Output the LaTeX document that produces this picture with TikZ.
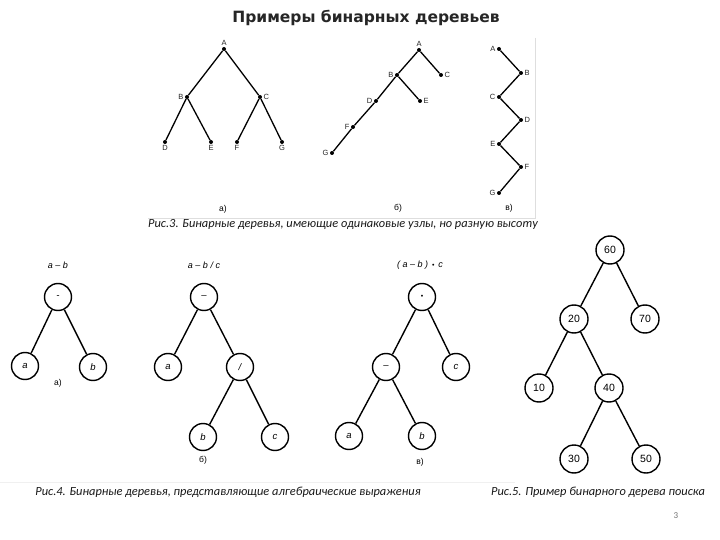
\documentclass[tikz,border=0pt]{standalone}
\usepackage{fontspec}
\setmainfont{Carlito}
\newfontfamily\arial{Liberation Sans}
\newfontfamily\titlefont{DejaVu Sans}
\begin{document}
\begin{tikzpicture}[x=1pt,y=-1pt,
  dotnode/.style={circle,fill=black,inner sep=0pt,minimum size=4pt},
  lbl/.style={font=\arial\fontsize{7.5}{8}\selectfont,inner sep=1.2pt,text=black!85},
  edge/.style={line width=1.4pt},
  tedge/.style={line width=1.3pt},
  cnode/.style={circle,draw,line width=1.4pt,minimum size=27pt,inner sep=0pt,font=\arial\itshape\fontsize{9.5}{10}\selectfont},
  nnode/.style={circle,draw,line width=1.4pt,minimum size=28pt,inner sep=0pt,font=\arial\fontsize{10.5}{11}\selectfont},
  sub/.style={font=\arial\fontsize{8.5}{9}\selectfont},
  expr/.style={font=\arial\itshape\fontsize{9}{10}\selectfont},
  captext/.style={font=\itshape\fontsize{12.4}{14}\selectfont,text=black!90}
]
\useasboundingbox[fill=white] (0,0) rectangle (720,540);

% title
\node[font=\titlefont\bfseries\fontsize{15.5}{18}\selectfont,text=black!85] (title) at (366,18) {Примеры бинарных деревьев};

% frame lines of Fig.3
\coordinate (fr1) at (535,38);
\coordinate (fr2) at (535,218);
\coordinate (fr3) at (148,218);
\draw[black!13,line width=0.8pt] (fr1) -- (fr2) -- (fr3);

% ---------- Fig.3 a)
\node[dotnode,label={[lbl]above:A}] (aA) at (224,49) {};
\node[dotnode,label={[lbl]left:B}] (aB) at (187,97) {};
\node[dotnode,label={[lbl]right:C}] (aC) at (260,97) {};
\node[dotnode,label={[lbl]below:D}] (aD) at (165,142) {};
\node[dotnode,label={[lbl]below:E}] (aE) at (211,142) {};
\node[dotnode,label={[lbl]below:F}] (aF) at (237,142) {};
\node[dotnode,label={[lbl]below:G}] (aG) at (282,142) {};
\draw[tedge] (aA) -- (aB) (aA) -- (aC) (aB) -- (aD) (aB) -- (aE) (aC) -- (aF) (aC) -- (aG);
\node[sub] (sa) at (223,209) {а)};

% ---------- Fig.3 б)
\node[dotnode,label={[lbl]above:A}] (bA) at (419,50) {};
\node[dotnode,label={[lbl]left:B}] (bB) at (397,75) {};
\node[dotnode,label={[lbl]right:C}] (bC) at (441,75) {};
\node[dotnode,label={[lbl]left:D}] (bD) at (376,101) {};
\node[dotnode,label={[lbl]right:E}] (bE) at (420,101) {};
\node[dotnode,label={[lbl]left:F}] (bF) at (353,127) {};
\node[dotnode,label={[lbl]left:G}] (bG) at (332,153) {};
\draw[tedge] (bA) -- (bB) (bA) -- (bC) (bB) -- (bD) (bB) -- (bE) (bD) -- (bF) (bF) -- (bG);
\node[sub] (sb) at (398,208) {б)};

% ---------- Fig.3 в)
\node[dotnode,label={[lbl]left:A}] (cA) at (499,49) {};
\node[dotnode,label={[lbl]right:B}] (cB) at (521,73) {};
\node[dotnode,label={[lbl]left:C}] (cC) at (499,97) {};
\node[dotnode,label={[lbl]right:D}] (cD) at (521,120) {};
\node[dotnode,label={[lbl]left:E}] (cE) at (499,144) {};
\node[dotnode,label={[lbl]right:F}] (cF) at (521,167) {};
\node[dotnode,label={[lbl]left:G}] (cG) at (499,193) {};
\draw[tedge] (cA) -- (cB) -- (cC) -- (cD) -- (cE) -- (cF) -- (cG);
\node[sub] (sc) at (509,208) {в)};

\node[captext] (cap3) at (343,225) {Рис.3. Бинарные деревья, имеющие одинаковые узлы, но разную высоту};

% ---------- Fig.4 a)
\node[expr] (e1) at (58,265) {a – b};
\node[cnode] (p1) at (58,297) {-};
\node[cnode] (p1a) at (25,366) {a};
\node[cnode] (p1b) at (93,367) {b};
\draw[edge] (p1) -- (p1a) (p1) -- (p1b);
\node[sub] (s4a) at (58,383) {а)};

% ---------- Fig.4 б)
\node[expr] (e2) at (204,265) {a – b / c};
\node[cnode] (q1) at (204,297) {–};
\node[cnode] (q1a) at (168,367) {a};
\node[cnode] (q1d) at (240,367) {/};
\node[cnode] (q1b) at (203,437) {b};
\node[cnode] (q1c) at (275,437) {c};
\draw[edge] (q1) -- (q1a) (q1) -- (q1d) (q1d) -- (q1b) (q1d) -- (q1c);
\node[sub] (s4b) at (203,460) {б)};

% ---------- Fig.4 в)
\node[expr] (e3) at (420,265) {( a – b )\, {\upshape\fontsize{7}{8}\selectfont •}\, c};
\node[cnode,font=\arial\fontsize{7}{8}\selectfont] (r1) at (422,297) {•};
\node[cnode] (r1m) at (386,367) {–};
\node[cnode] (r1c) at (456,367) {c};
\node[cnode] (r1a) at (349,436) {a};
\node[cnode] (r1b) at (422,436) {b};
\draw[edge] (r1) -- (r1m) (r1) -- (r1c) (r1m) -- (r1a) (r1m) -- (r1b);
\node[sub] (s4c) at (420,462) {в)};

% faint line
\coordinate (fl1) at (0,482);
\coordinate (fl2) at (515,482);
\draw[black!6,line width=0.8pt] (fl1) -- (fl2);

\node[captext] (cap4) at (228,492) {Рис.4. Бинарные деревья, представляющие алгебраические выражения};

% ---------- Fig.5
\node[nnode] (n60) at (610,250) {60};
\node[nnode] (n20) at (574,319) {20};
\node[nnode] (n70) at (645,319) {70};
\node[nnode] (n10) at (539,388) {10};
\node[nnode] (n40) at (609,388) {40};
\node[nnode] (n30) at (574,459) {30};
\node[nnode] (n50) at (646,459) {50};
\draw[edge] (n60) -- (n20) (n60) -- (n70) (n20) -- (n10) (n20) -- (n40) (n40) -- (n30) (n40) -- (n50);

\node[captext] (cap5) at (598,492) {Рис.5. Пример бинарного дерева поиска};

\node[font=\fontsize{9}{10}\selectfont,text=black!55] (pg) at (676,516) {3};
\end{tikzpicture}
\end{document}
